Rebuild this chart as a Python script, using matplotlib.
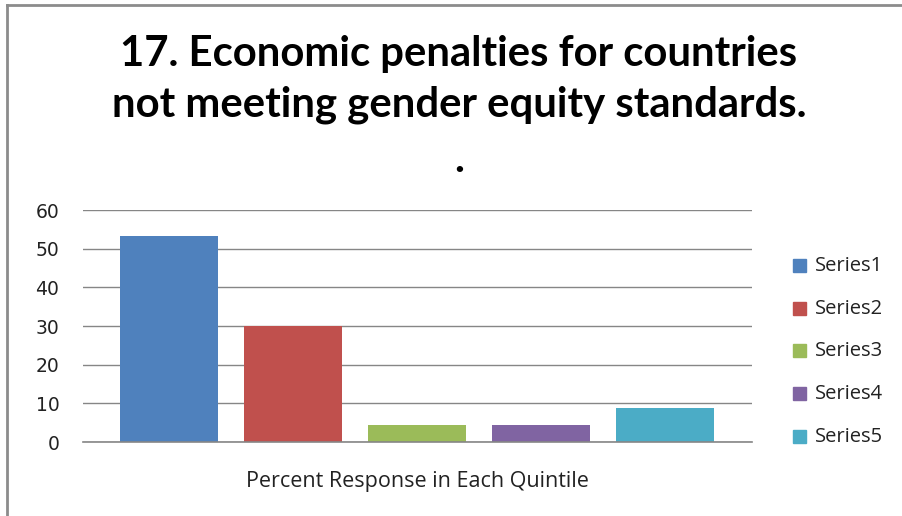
import matplotlib.pyplot as plt
from matplotlib.lines import Line2D

series = ['Series1', 'Series2', 'Series3', 'Series4', 'Series5']
values = [53.3, 30.0, 4.4, 4.4, 8.8]
colors = ['#4F81BD', '#C0504D', '#9BBB59', '#8064A2', '#4BACC6']
yticks = [0, 10, 20, 30, 40, 50, 60]
xlabel = 'Percent Response in Each Quintile'
title_lines = ['17. Economic penalties for countries',
               'not meeting gender equity standards.', '.']

W, H = 902, 516
fig = plt.figure(figsize=(W / 100, H / 100), dpi=100)
fig.patch.set_facecolor('white')

# outer frame (only top and left edges visible)
fig.add_artist(Line2D([7 / W, 1], [1 - 5 / H, 1 - 5 / H], color='#8c8c8c', lw=2,
                      transform=fig.transFigure))
fig.add_artist(Line2D([7 / W, 7 / W], [0, 1 - 5 / H], color='#8c8c8c', lw=2,
                      transform=fig.transFigure))

ax = fig.add_axes([83 / W, (H - 442) / H, (752 - 83) / W, (442 - 210) / H])
x = list(range(len(series)))
bars = ax.bar(x, values, width=0.79, color=colors, zorder=3)

ax.set_xlim(-0.694, 4.70)
ax.set_ylim(0, 60)
ax.set_yticks(yticks)
ax.yaxis.grid(True, color='#868686', lw=1)
ax.axhline(0, color='#868686', lw=1.2, clip_on=False, zorder=4)
ax.set_axisbelow(True)
for sp in ax.spines.values():
    sp.set_visible(False)
ax.set_xticks([])
ax.tick_params(axis='y', length=0, pad=17, labelsize=13.5, labelcolor='#222222')
for lab in ax.get_yticklabels():
    lab.set_family('DejaVu Sans')

fig.text(417 / W, 1 - 481 / H, xlabel, ha='center', va='center',
         fontsize=15.5, family='Open Sans', color='#222222')

# title: two lines plus a lone period
for yb, line in zip([66, 116, 172], title_lines):
    fig.text(459 / W, 1 - yb / H, line, ha='center', va='baseline', fontsize=30.2,
             family='Lato', fontweight='bold', color='black')

# legend
ys = [266, 309, 351, 394, 437]
for yy, c, s in zip(ys, colors, series):
    fig.patches.append(plt.Rectangle((793 / W, 1 - (yy + 6) / H), 13 / W, 13 / H,
                                     color=c, transform=fig.transFigure, figure=fig))
    fig.text(815 / W, 1 - yy / H, s, ha='left', va='center', fontsize=14.5,
             family='Open Sans', color='#222222')

fig.savefig('out.png', dpi=100, facecolor='white')
